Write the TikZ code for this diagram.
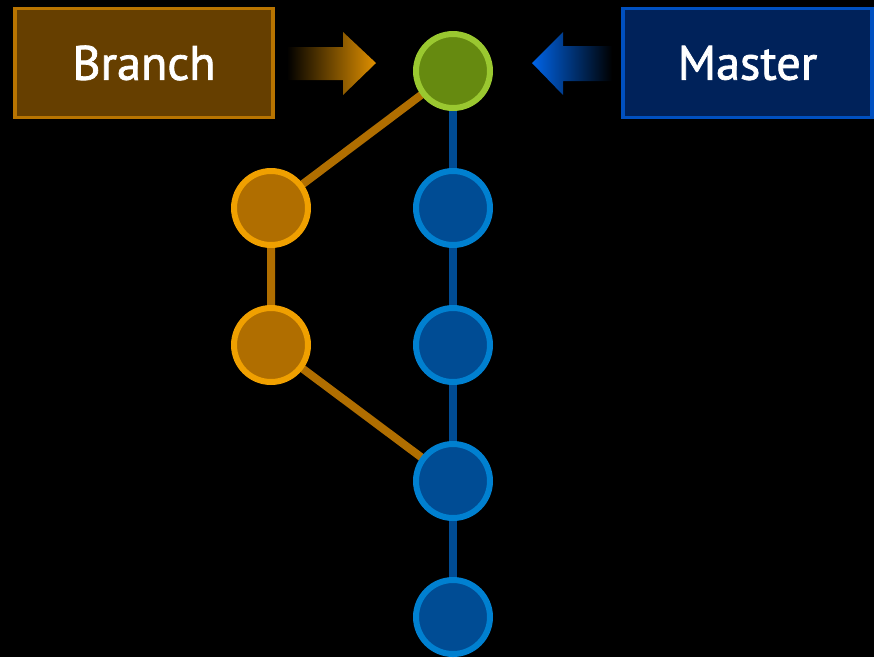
\documentclass[tikz,border=0pt]{standalone}
\usepackage{fontspec}
\setmainfont{PT Sans}
\newfontfamily\tagfont[FakeBold=1.6]{PT Sans}
\usepackage{tikz}
\usetikzlibrary{positioning}
\definecolor{brfill}   {HTML}{663F00}
\definecolor{brline}   {HTML}{B87400}
\definecolor{msfill}   {HTML}{00225A}
\definecolor{msline}   {HTML}{0050C0}
\definecolor{orfill}   {HTML}{B06E00}
\definecolor{orline}   {HTML}{F0A000}
\definecolor{bufill}   {HTML}{004C94}
\definecolor{buline}   {HTML}{0080D0}
\definecolor{grfill}   {HTML}{668A10}
\definecolor{grline}   {HTML}{9AC830}
\definecolor{orarrow}  {HTML}{E09000}
\definecolor{buarrow}  {HTML}{0064E8}

\pgfdeclarelayer{paper}
\pgfdeclarelayer{links}
\pgfsetlayers{paper,links,main}

\tikzset{
  commit/.style={circle,line width=0.12cm,minimum size=1.48cm,inner sep=0pt},
  master/.style={commit,draw=buline,fill=bufill},
  branch/.style={commit,draw=orline,fill=orfill},
  head/.style={commit,draw=grline,fill=grfill},
  label/.style={line width=0.07cm,text=white,inner sep=0pt,
                font=\tagfont\fontsize{27.5}{32}\selectfont},
  mline/.style={draw=bufill,line width=0.16cm},
  bline/.style={draw=orfill,line width=0.16cm},
}

\begin{document}
\begin{tikzpicture}[x=0.02cm,y=-0.02cm]
  \begin{pgfonlayer}{paper}
    \fill[black] (0,0) rectangle (874,657);
  \end{pgfonlayer}
  \useasboundingbox (0,0) rectangle (874,657);

  % commits
  \node[head]   (top) at (453,71)  {};
  \node[master] (m1)  at (453,208) {};
  \node[master] (m2)  at (453,345) {};
  \node[master] (m3)  at (453,481) {};
  \node[master] (m4)  at (453,617) {};
  \node[branch] (b1)  at (271,208) {};
  \node[branch] (b2)  at (271,345) {};

  % history lines, kept behind the commits
  \begin{pgfonlayer}{links}
    \path[mline] (top.center) -- (m1.center) -- (m2.center) -- (m3.center) -- (m4.center);
    \path[bline] (top.center) -- (b1.center) -- (b2.center) -- (m3.center);
  \end{pgfonlayer}

  % labels
  \node[label,draw=brline,fill=brfill,minimum width=5.16cm,minimum height=2.18cm]
    (brlabel) at (144,63) {Branch};
  \node[label,draw=msline,fill=msfill,minimum width=4.98cm,minimum height=2.18cm]
    (mslabel) at (747.5,63) {Master};

  % pointers
  \fill[left color=black,right color=orarrow]
    (287,47) -- (343,47) -- (343,32) -- (376,63) -- (343,95) -- (343,80) -- (287,80) -- cycle;
  \fill[left color=buarrow,right color=black]
    (612,46) -- (563,46) -- (563,32) -- (532,63) -- (563,95) -- (563,81) -- (612,81) -- cycle;
\end{tikzpicture}
\end{document}
